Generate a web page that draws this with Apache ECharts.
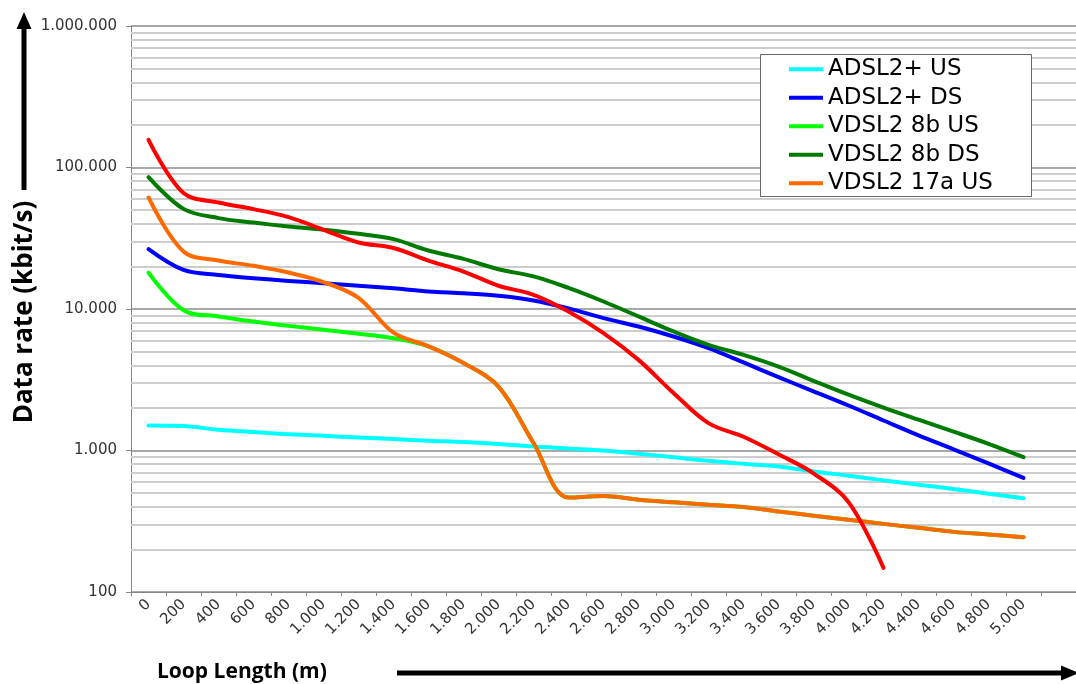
<!DOCTYPE html>
<html>
<head>
<meta charset="utf-8">
<title>DSL data rate vs loop length</title>
<script src="https://cdn.jsdelivr.net/npm/echarts@6/dist/echarts.min.js"></script>
<style>
  html, body { margin: 0; padding: 0; background: #fff; }
  #chart { width: 1076px; height: 684px; }
</style>
</head>
<body>
<div id="chart"></div>
<script>
// Loop length categories (m)
const loopLength = [0, 200, 400, 600, 800, 1000, 1200, 1400, 1600, 1800, 2000, 2200, 2400,
  2600, 2800, 3000, 3200, 3400, 3600, 3800, 4000, 4200, 4400, 4600, 4800, 5000];

// Data rates (kbit/s) per technology
const adsl2pUS = [1500, 1487, 1400, 1349, 1305, 1270, 1236, 1205, 1172, 1147, 1110, 1068, 1033,
  1000, 950, 897, 845, 805, 771, 711, 663, 615, 573, 535, 495, 460];
const adsl2pDS = [26500, 18900, 17400, 16500, 15800, 15200, 14600, 14000, 13300, 12900, 12400, 11500, 10100,
  8620, 7520, 6390, 5290, 4190, 3300, 2620, 2080, 1630, 1280, 1020, 810, 640];
const vdsl8bUS = [18100, 9800, 8860, 8160, 7600, 7130, 6680, 6220, 5450, 4150, 2830, 1130, 465,
  476, 449, 430, 414, 399, 371, 346, 324, 303, 284, 266, 255, 244];
const vdsl8bDS = [85500, 51000, 43900, 40800, 38300, 36300, 34000, 31200, 25900, 22600, 19100, 17000, 14100,
  11300, 8860, 6940, 5580, 4740, 3920, 3110, 2480, 2010, 1650, 1360, 1115, 897];
const vdsl17aUS = [61400, 25500, 22000, 20200, 18100, 15500, 12000, 6800, 5450, 4150, 2830, 1130, 465,
  476, 449, 430, 414, 399, 371, 346, 324, 303, 284, 266, 255, 244];
const vdsl17aDS = [157000, 66000, 56600, 50800, 44600, 36300, 29500, 27000, 22000, 18400, 14600, 12600, 9600,
  6760, 4370, 2550, 1560, 1250, 940, 690, 432, 148];

// Legend entries and y-axis range
const legendNames = ['ADSL2+ US', 'ADSL2+ DS', 'VDSL2 8b US', 'VDSL2 8b DS', 'VDSL2 17a US'];
const yMin = 100, yMax = 1000000;

// German-style thousands separator
const fmt = v => String(v).replace(/\B(?=(\d{3})+(?!\d))/g, '.');

// Minor grid levels: 2..9 times each decade
const minorLevels = [];
for (let p = yMin; p < yMax; p *= 10) {
  for (let m = 2; m <= 9; m++) minorLevels.push(m * p);
}

const AXIS_FONT = 'DejaVu Sans';

function lineSeries(name, data, color) {
  return {
    name: name,
    type: 'line',
    data: data,
    smooth: 0.35,
    showSymbol: false,
    symbol: 'none',
    silent: true,
    z: 3,
    lineStyle: { color: color, width: 4, cap: 'round', join: 'round' },
    itemStyle: { color: color }
  };
}

const chart = echarts.init(document.getElementById('chart'), null, { renderer: 'canvas' });

chart.setOption({
  animation: false,
  backgroundColor: '#ffffff',
  grid: { left: 131, top: 26, right: -3, bottom: 92 },
  legend: {
    data: legendNames,
    orient: 'vertical',
    left: 789,
    top: 55,
    padding: 0,
    itemGap: 0,
    itemWidth: 34,
    itemHeight: 4,
    icon: 'rect',
    selectedMode: false,
    z: 6,
    textStyle: { fontFamily: AXIS_FONT, fontSize: 23, color: '#000', lineHeight: 28.5 }
  },
  xAxis: {
    type: 'category',
    data: loopLength.map(fmt).concat(['']),
    boundaryGap: true,
    axisLine: { lineStyle: { color: '#868686', width: 1 } },
    axisTick: { show: true, interval: 0, length: 4, lineStyle: { color: '#868686' } },
    axisLabel: { interval: 0, rotate: 45, margin: 10, fontFamily: AXIS_FONT, fontSize: 15, color: '#333' },
    splitLine: { show: false }
  },
  yAxis: {
    type: 'log',
    logBase: 10,
    min: yMin,
    max: yMax,
    axisLine: { show: true, lineStyle: { color: '#868686', width: 1 } },
    axisTick: { show: true, length: 5, lineStyle: { color: '#868686' } },
    axisLabel: { formatter: v => fmt(v), margin: 14, fontFamily: AXIS_FONT, fontSize: 15, color: '#333' },
    splitLine: { show: true, lineStyle: { color: '#8c8c8c', width: 1.5 } },
    minorTick: { show: false },
    minorSplitLine: { show: false }
  },
  series: [
    {
      name: 'minor grid',
      type: 'line',
      data: [],
      z: 1,
      silent: true,
      markLine: {
        z: 1,
        silent: true,
        symbol: 'none',
        animation: false,
        label: { show: false },
        emphasis: { disabled: true },
        lineStyle: { color: '#cdcdcd', width: 2, type: 'solid' },
        data: minorLevels.map(v => ({ yAxis: v }))
      }
    },
    lineSeries('ADSL2+ US', adsl2pUS, '#00ffff'),
    lineSeries('ADSL2+ DS', adsl2pDS, '#0000ff'),
    lineSeries('VDSL2 8b US', vdsl8bUS, '#00ff00'),
    lineSeries('VDSL2 8b DS', vdsl8bDS, '#007a00'),
    lineSeries('VDSL2 17a US', vdsl17aUS, '#ff6a00'),
    lineSeries('VDSL2 17a DS', vdsl17aDS, '#ff0000')
  ],
  graphic: [
    // legend frame
    {
      type: 'rect', z: 5,
      shape: { x: 760.5, y: 54.5, width: 271, height: 142 },
      style: { fill: '#ffffff', stroke: '#6a6a6a', lineWidth: 1 }
    },
    // vertical arrow beside the y axis
    { type: 'line', z: 5, shape: { x1: 24, y1: 190, x2: 24, y2: 24 }, style: { stroke: '#000', lineWidth: 5 } },
    { type: 'polygon', z: 5, shape: { points: [[24, 12], [16.5, 29], [31.5, 29]] }, style: { fill: '#000' } },
    // horizontal arrow under the x axis
    { type: 'line', z: 5, shape: { x1: 397, y1: 673, x2: 1064, y2: 673 }, style: { stroke: '#000', lineWidth: 5 } },
    { type: 'polygon', z: 5, shape: { points: [[1079, 673], [1061, 665.5], [1061, 680.5]] }, style: { fill: '#000' } },
    // axis titles
    {
      type: 'text', z: 5, x: 157, y: 672,
      style: {
        text: 'Loop Length (m)', fill: '#000',
        font: 'bold 21px "Open Sans"',
        align: 'left', verticalAlign: 'middle', textAlign: 'left', textVerticalAlign: 'middle'
      }
    },
    {
      type: 'text', z: 5, x: 25, y: 312, rotation: Math.PI / 2,
      style: {
        text: 'Data rate (kbit/s)', fill: '#000',
        font: 'bold 26px "Open Sans"',
        align: 'center', verticalAlign: 'middle', textAlign: 'center', textVerticalAlign: 'middle'
      }
    }
  ]
});
</script>
</body>
</html>
